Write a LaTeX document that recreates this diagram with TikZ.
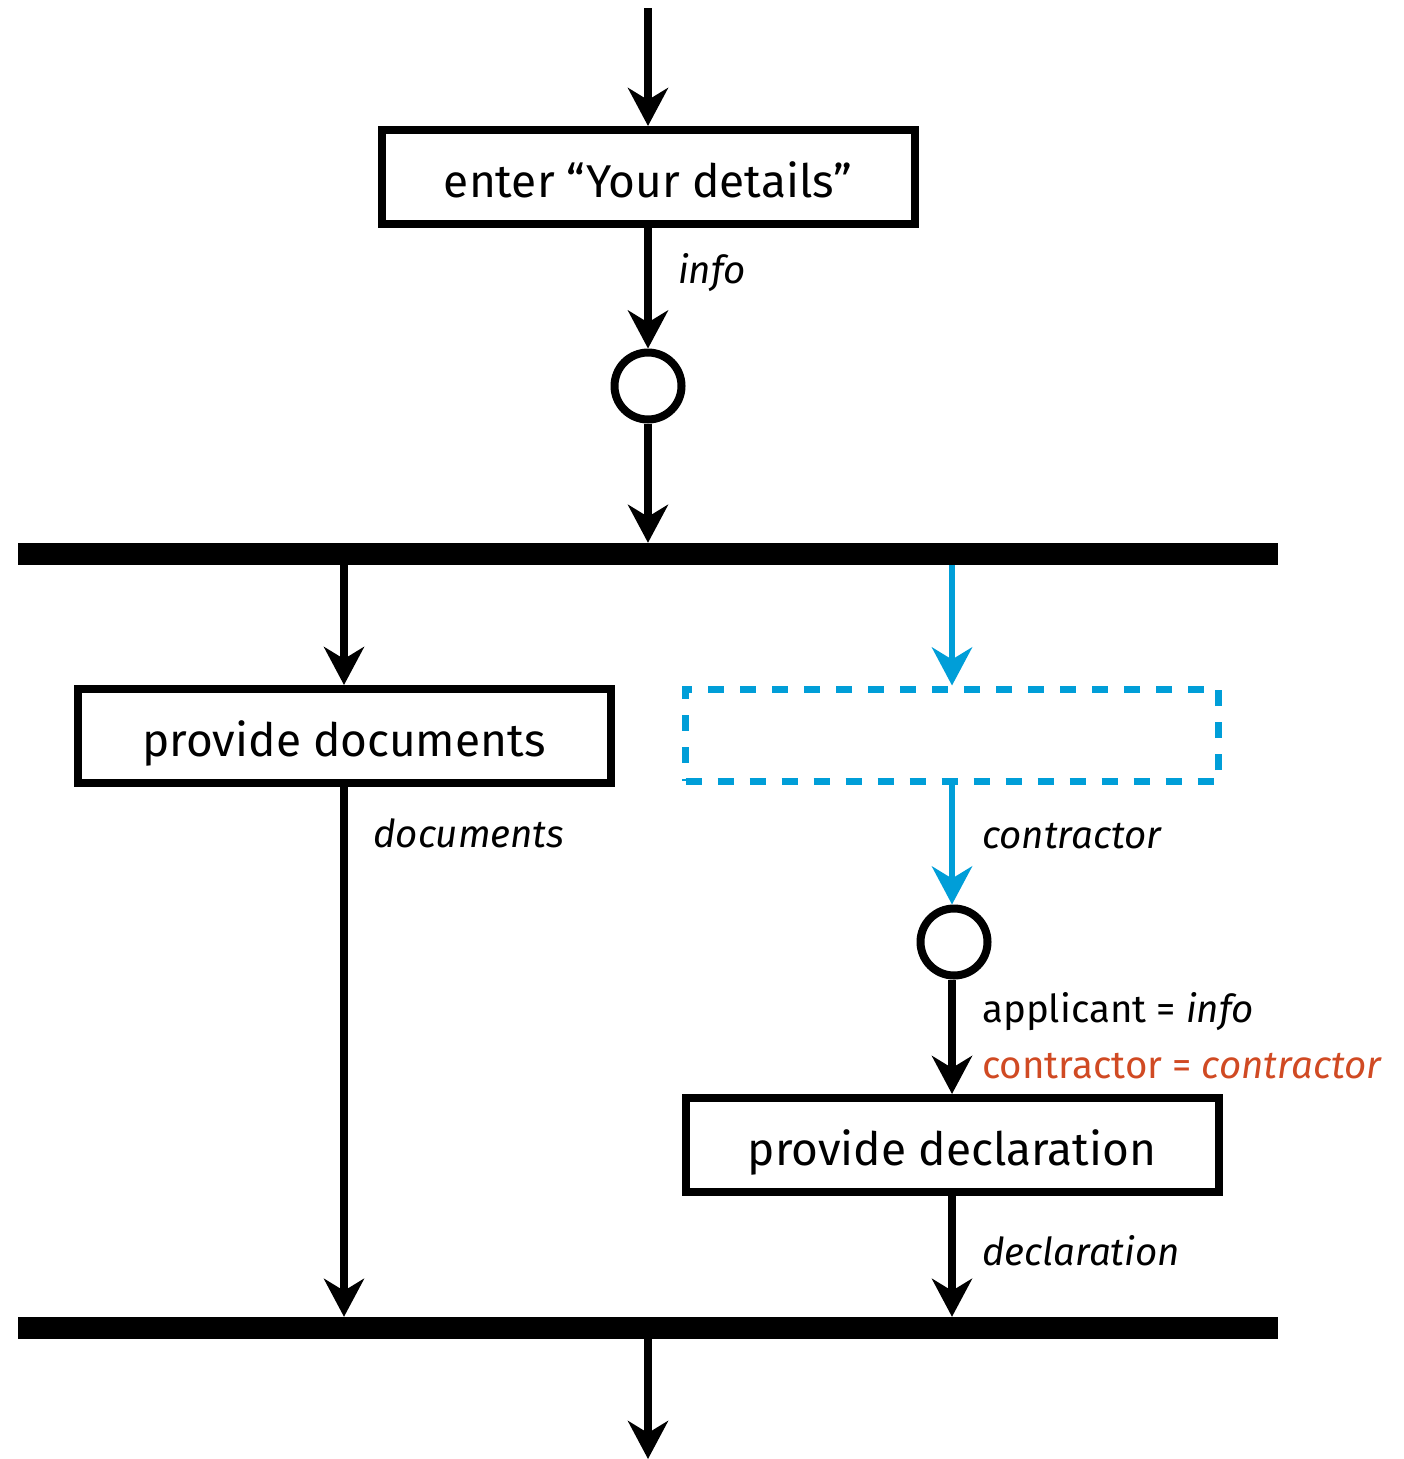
\documentclass[tikz,border=0pt]{standalone}
\usepackage{fontspec}
\setmainfont{Fira Sans}
\usetikzlibrary{arrows.meta}
\definecolor{flowblue}{RGB}{0,158,216}
\definecolor{bindred}{RGB}{208,74,35}
\tikzset{
  every node/.style={font=\fontsize{46}{54}\selectfont},
  action/.style={draw, line width=8pt, minimum width=533pt, minimum height=94pt, inner sep=0pt, text depth=0pt, text height=40pt},
  ghost/.style={draw=flowblue, line width=7pt, dash pattern=on 16pt off 16pt, minimum width=533pt, minimum height=92pt, inner sep=0pt},
  merge/.style={circle, draw, line width=8pt, minimum size=67pt, inner sep=0pt},
  bar/.style={fill=black, minimum width=1260pt, minimum height=22pt, inner sep=0pt},
  flow/.style={line width=7.5pt, -{Stealth[length=38pt, width=40pt, inset=12pt]}},
  label/.style={anchor=west, inner sep=0pt, font=\fontsize{38.5}{44}\selectfont\itshape},
}
\begin{document}
\begin{tikzpicture}[x=1pt, y=-1pt]
\useasboundingbox (0,0) rectangle (1403,1459);

\coordinate (start) at (648,8);
\node[action] (details) at (648,177) {enter “Your details”};
\node[merge] (m1) at (648,386) {};
\node[bar] (fork) at (648,554) {};
\node[action] (docs) at (344,736) {provide documents};
\node[ghost] (choose) at (952,735) {};
\node[merge] (m2) at (954,942) {};
\node[action] (decl) at (952,1145) {provide declaration};
\node[bar] (join) at (648,1328) {};
\coordinate (finish) at (648,1459);

\draw[flow] (start) -- (details.north);
\draw[flow] (details.south) -- (m1.north);
\draw[flow] (m1.south) -- (fork.north);
\draw[flow] (fork.south -| docs.north) -- (docs.north);
\draw[flow, draw=flowblue, fill=flowblue, line width=6.5pt] (fork.south -| choose.north) -- (choose.north);
\draw[flow, draw=flowblue, fill=flowblue, line width=6.5pt] (choose.south) -- (choose.south |- m2.north);
\draw[flow] (m2.south -| decl.north) -- (decl.north);
\draw[flow] (docs.south) -- (join.north -| docs.south);
\draw[flow] (decl.south) -- (join.north -| decl.south);
\draw[flow] (join.south) -- (finish);

\node[label] (linfo) at (678,273) {info};
\node[label] (ldocs) at (373,833) {documents};
\node[label] (lcontr) at (982,836) {contractor};
\node[label, font=\fontsize{38.5}{44}\selectfont] (lapp) at (982,1012) {applicant = \textit{info}};
\node[label, font=\fontsize{38.5}{44}\selectfont, text=bindred] (lbind) at (982,1066) {contractor = \textit{contractor}};
\node[label] (ldecl) at (982,1251) {declaration};
\end{tikzpicture}
\end{document}
